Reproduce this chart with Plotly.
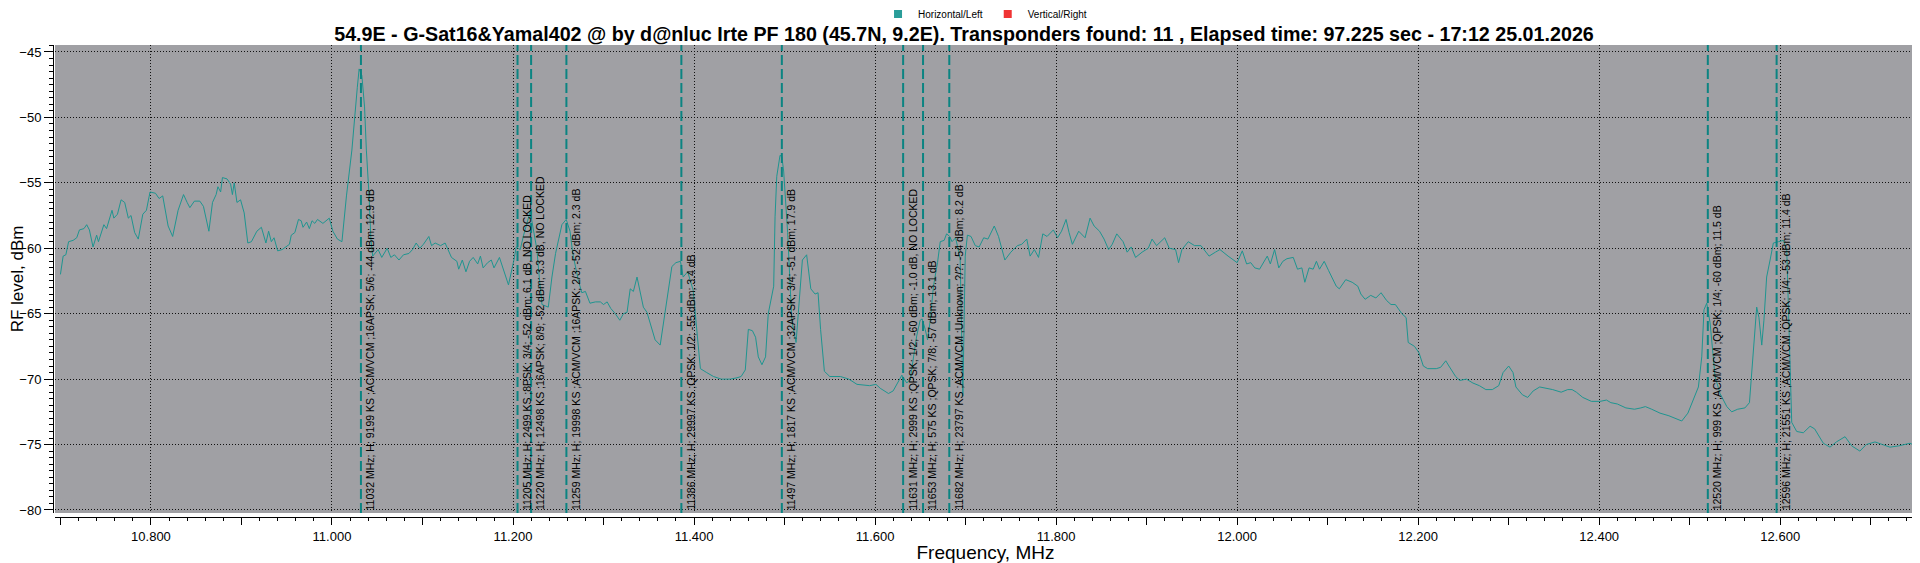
import plotly.graph_objects as go

# spectrum scan, horizontal polarisation
freq_ghz = [
    10.700, 10.703, 10.706, 10.709, 10.714, 10.718, 10.721, 10.726, 10.729, 10.732,
    10.736, 10.740, 10.742, 10.745, 10.748, 10.751, 10.757, 10.759, 10.763, 10.767,
    10.771, 10.775, 10.778, 10.782, 10.786, 10.791, 10.795, 10.799, 10.805, 10.809,
    10.813, 10.819, 10.824, 10.830, 10.836, 10.840, 10.843, 10.848, 10.854, 10.858,
    10.864, 10.868, 10.872, 10.874, 10.877, 10.879, 10.884, 10.888, 10.890, 10.892,
    10.895, 10.899, 10.903, 10.907, 10.911, 10.917, 10.922, 10.927, 10.930, 10.933,
    10.936, 10.940, 10.945, 10.953, 10.955, 10.959, 10.963, 10.966, 10.968, 10.972,
    10.975, 10.978, 10.981, 10.984, 10.990, 10.997, 11.001, 11.006, 11.011, 11.016,
    11.022, 11.028, 11.030, 11.033, 11.036, 11.038, 11.041, 11.043, 11.045, 11.051,
    11.055, 11.061, 11.065, 11.069, 11.074, 11.079, 11.085, 11.089, 11.093, 11.097,
    11.101, 11.107, 11.110, 11.114, 11.120, 11.125, 11.132, 11.138, 11.140, 11.144,
    11.148, 11.152, 11.156, 11.161, 11.164, 11.167, 11.172, 11.176, 11.179, 11.185,
    11.189, 11.195, 11.2007, 11.2036, 11.208, 11.2117, 11.219, 11.2225, 11.2264, 11.229,
    11.232, 11.239, 11.243, 11.247, 11.250, 11.254, 11.2588, 11.263, 11.266, 11.272,
    11.276, 11.280, 11.285, 11.291, 11.2965, 11.300, 11.304, 11.308, 11.313, 11.318,
    11.322, 11.326, 11.3295, 11.333, 11.337, 11.340, 11.344, 11.348, 11.3516, 11.357,
    11.3626, 11.366, 11.370, 11.3755, 11.380, 11.385, 11.388, 11.393, 11.399, 11.403,
    11.407, 11.414, 11.4215, 11.430, 11.440, 11.4474, 11.452, 11.4566, 11.460, 11.4645,
    11.468, 11.471, 11.475, 11.479, 11.482, 11.488, 11.4895, 11.4914, 11.495, 11.497,
    11.499, 11.5034, 11.508, 11.5127, 11.5197, 11.5244, 11.529, 11.5337, 11.537, 11.5398,
    11.544, 11.550, 11.5617, 11.571, 11.580, 11.594, 11.601, 11.6057, 11.6148, 11.620,
    11.626, 11.6296, 11.635, 11.639, 11.6425, 11.646, 11.6498, 11.652, 11.6554, 11.658,
    11.661, 11.6645, 11.669, 11.672, 11.6763, 11.679, 11.6825, 11.685, 11.689, 11.694,
    11.697, 11.6996, 11.702, 11.706, 11.7107, 11.715, 11.720, 11.7247, 11.7317, 11.7364,
    11.7434, 11.750, 11.7573, 11.762, 11.7676, 11.7713, 11.776, 11.7806, 11.7853, 11.790,
    11.797, 11.8016, 11.806, 11.811, 11.8143, 11.818, 11.825, 11.832, 11.8375, 11.842,
    11.848, 11.853, 11.858, 11.862, 11.867, 11.874, 11.8785, 11.883, 11.8878, 11.895,
    11.9018, 11.906, 11.911, 11.920, 11.925, 11.932, 11.9353, 11.939, 11.946, 11.953,
    11.960, 11.969, 11.976, 11.981, 11.990, 12.000, 12.0057, 12.0105, 12.015, 12.0195,
    12.0248, 12.029, 12.0333, 12.0367, 12.0414, 12.046, 12.0505, 12.055, 12.062, 12.0667,
    12.0715, 12.0748, 12.0795, 12.084, 12.0876, 12.091, 12.0962, 12.101, 12.1057, 12.1095,
    12.1129, 12.120, 12.1271, 12.1333, 12.1367, 12.1414, 12.1476, 12.1533, 12.159, 12.1652,
    12.170, 12.1748, 12.182, 12.1867, 12.189, 12.196, 12.201, 12.2057, 12.2105, 12.220,
    12.2248, 12.2305, 12.234, 12.2414, 12.246, 12.2533, 12.2605, 12.2676, 12.2748, 12.2819,
    12.289, 12.2938, 12.300, 12.3048, 12.308, 12.3152, 12.321, 12.3271, 12.3343, 12.3414,
    12.3486, 12.358, 12.3652, 12.370, 12.3748, 12.3819, 12.3914, 12.401, 12.408, 12.4129,
    12.420, 12.4295, 12.439, 12.446, 12.451, 12.458, 12.4672, 12.477, 12.4843, 12.4912,
    12.498, 12.504, 12.5096, 12.5133, 12.5158, 12.5188, 12.5225, 12.528, 12.5335, 12.541,
    12.5464, 12.553, 12.561, 12.566, 12.5696, 12.574, 12.5765, 12.5796, 12.582, 12.585,
    12.5888, 12.5924, 12.598, 12.6035, 12.6072, 12.610, 12.6127, 12.6182, 12.6255, 12.633,
    12.638, 12.6476, 12.655, 12.662, 12.6716, 12.679, 12.688, 12.695, 12.7047, 12.713,
    12.7213, 12.731, 12.7434, 12.749,
]
level_dbm = [
    -62.0, -60.6, -60.5, -59.5, -59.4, -59.2, -58.6, -58.5, -58.2, -58.6,
    -59.9, -59.0, -59.5, -58.8, -58.2, -58.5, -57.1, -57.7, -57.4, -56.3,
    -56.5, -57.7, -57.5, -58.8, -59.3, -57.4, -57.1, -55.7, -55.8, -56.2,
    -56.0, -58.3, -59.1, -57.1, -55.9, -56.5, -56.9, -56.4, -56.4, -56.8,
    -58.7, -56.5, -55.9, -55.3, -55.7, -54.6, -54.7, -55.1, -55.9, -55.0,
    -56.5, -56.3, -57.3, -59.6, -59.5, -58.7, -58.4, -59.6, -58.7, -59.5,
    -59.2, -60.2, -60.1, -59.7, -59.0, -58.8, -57.8, -57.9, -58.4, -58.0,
    -58.5, -57.9, -58.1, -57.8, -58.1, -57.7, -58.7, -59.3, -59.5, -56.0,
    -52.5, -47.7, -46.3, -46.8, -49.2, -52.5, -56.0, -59.3, -60.6, -60.1,
    -60.7, -60.0, -60.7, -60.5, -60.9, -60.5, -60.4, -60.1, -59.6, -60.0,
    -59.7, -59.1, -59.8, -59.6, -59.8, -59.6, -60.7, -61.0, -61.6, -60.9,
    -61.8, -61.0, -60.7, -61.2, -60.6, -61.5, -61.1, -60.9, -61.5, -60.7,
    -61.6, -62.8, -61.0, -59.9, -60.1, -59.0, -57.2, -58.5, -60.1, -62.2,
    -64.3, -64.5, -62.2, -60.4, -59.4, -58.2, -57.8, -58.7, -60.4, -62.4,
    -63.4, -63.3, -64.2, -64.1, -64.1, -64.3, -64.1, -64.6, -65.0, -65.5,
    -65.0, -64.9, -63.1, -63.3, -62.2, -63.2, -64.5, -64.9, -65.7, -67.0,
    -67.4, -65.8, -63.7, -61.4, -61.1, -61.0, -62.2, -61.8, -63.2, -66.2,
    -69.2, -69.5, -69.8, -70.0, -70.0, -69.9, -69.8, -69.3, -66.2, -66.3,
    -66.8, -68.3, -68.9, -68.3, -65.0, -62.9, -57.6, -54.5, -52.9, -53.0,
    -54.1, -58.8, -65.5, -67.2, -60.9, -60.5, -63.1, -63.5, -63.4, -66.2,
    -69.4, -69.8, -69.8, -70.0, -70.4, -70.5, -70.4, -70.7, -71.1, -70.9,
    -70.2, -69.7, -70.3, -70.0, -68.3, -66.7, -65.5, -65.4, -66.2, -67.0,
    -65.5, -62.9, -61.1, -59.5, -59.4, -58.9, -59.1, -59.5, -59.2, -60.8,
    -71.3, -60.6, -59.0, -59.1, -59.8, -59.9, -59.2, -59.3, -58.3, -59.1,
    -60.9, -60.3, -59.8, -59.7, -59.3, -60.6, -60.1, -60.7, -58.9, -59.1,
    -58.6, -59.2, -58.7, -57.8, -58.8, -59.7, -58.7, -59.2, -57.7, -58.3,
    -58.7, -59.3, -60.1, -59.7, -58.9, -59.5, -60.3, -59.9, -60.7, -60.3,
    -60.0, -59.3, -59.8, -59.2, -60.0, -60.1, -61.1, -60.1, -59.5, -59.8,
    -59.8, -60.6, -60.3, -60.1, -60.6, -61.1, -60.2, -61.2, -61.1, -61.5,
    -61.6, -61.1, -60.6, -61.2, -60.1, -61.5, -61.0, -60.8, -60.7, -61.6,
    -61.5, -62.6, -61.5, -61.6, -61.0, -61.6, -61.0, -61.7, -62.4, -62.9,
    -63.1, -62.4, -62.6, -62.9, -63.5, -63.9, -63.6, -63.8, -63.4, -64.0,
    -64.3, -64.3, -65.0, -65.3, -67.2, -67.5, -68.0, -69.0, -69.2, -69.2,
    -69.1, -68.6, -69.0, -69.8, -70.1, -70.0, -70.3, -70.5, -70.8, -70.8,
    -70.5, -69.5, -69.0, -69.5, -70.6, -71.2, -71.4, -70.9, -70.6, -70.7,
    -70.8, -71.0, -70.8, -70.8, -71.0, -71.4, -71.7, -71.7, -71.6, -71.8,
    -71.9, -72.2, -72.3, -72.2, -72.1, -72.3, -72.6, -72.8, -73.0, -73.2,
    -72.6, -71.5, -70.6, -68.3, -64.7, -64.2, -65.7, -69.8, -71.1, -72.1,
    -72.5, -72.3, -72.2, -71.8, -68.3, -64.5, -65.3, -67.4, -65.5, -62.2,
    -60.9, -59.6, -59.5, -59.4, -60.1, -66.7, -73.3, -74.0, -74.1, -73.6,
    -73.8, -74.9, -75.2, -74.8, -74.4, -75.1, -75.5, -75.0, -74.8, -75.0,
    -75.2, -75.1, -74.9, -75.1,
]

# transponders found
tp_freq_mhz = [11032, 11205, 11220, 11259, 11386, 11497, 11631, 11653, 11682, 12520, 12596]
tp_labels = [
    "11032 MHz; H; 9199 KS ;ACM/VCM ;16APSK; 5/6; -44 dBm; 12.9 dB",
    "11205 MHz; H; 2499 KS ;8PSK; 3/4; -52 dBm; 6.1 dB, NO LOCKED",
    "11220 MHz; H; 12498 KS ;16APSK; 8/9; -52 dBm; 3.3 dB, NO LOCKED",
    "11259 MHz; H; 19998 KS ;ACM/VCM ;16APSK; 2/3; -52 dBm; 2.3 dB",
    "11386 MHz; H; 29997 KS ;QPSK; 1/2; -55 dBm; 3.4 dB",
    "11497 MHz; H; 1817 KS ;ACM/VCM ;32APSK; 3/4; -51 dBm; 17.9 dB",
    "11631 MHz; H; 2999 KS ;QPSK; 1/2; -60 dBm; -1.0 dB, NO LOCKED",
    "11653 MHz; H; 575 KS ;QPSK; 7/8; -57 dBm; 13.1 dB",
    "11682 MHz; H; 23797 KS ;ACM/VCM ;Unknown; ?/?; -54 dBm; 8.2 dB",
    "12520 MHz; H; 999 KS ;ACM/VCM ;QPSK; 1/4; -60 dBm; 11.5 dB",
    "12596 MHz; H; 21551 KS ;ACM/VCM ;QPSK; 1/4; -53 dBm; 11.4 dB",
]

title = ("54.9E - G-Sat16&Yamal402 @ by d@nluc Irte PF 180 (45.7N, 9.2E). "
         "Transponders found: 11 , Elapsed time: 97.225 sec - 17:12 25.01.2026")

x_range = [10.694, 12.750]
y_range = [-80.23, -44.47]

TEAL = "#1f9590"
MARK = "#0b8482"
FONT = "Liberation Sans"

# the page body adds an 8px margin, so the figure is 8px smaller
W, H = 1912, 555


def create_scan_chart():
    fig = go.Figure()

    fig.add_trace(
        go.Scatter(
            x=freq_ghz,
            y=level_dbm,
            mode="lines",
            line=dict(color=TEAL, width=1),
            showlegend=False,
        )
    )

    # legend entries (squares)
    fig.add_trace(
        go.Scatter(
            x=[None], y=[None], mode="markers", name="Horizontal/Left",
            marker=dict(symbol="square", size=8, color="#2a9d99"),
        )
    )
    fig.add_trace(
        go.Scatter(
            x=[None], y=[None], mode="markers", name="Vertical/Right",
            marker=dict(symbol="square", size=8, color="#f03434"),
        )
    )
    # carrier for the 0.1 tick axis
    fig.add_trace(
        go.Scatter(x=x_range, y=y_range, mode="lines", xaxis="x2",
                   line=dict(width=0), hoverinfo="skip", showlegend=False)
    )

    for f, txt in zip(tp_freq_mhz, tp_labels):
        fig.add_vline(
            x=f / 1000,
            line=dict(color=MARK, width=2, dash="10px,4px"),
        )
        fig.add_annotation(
            x=f / 1000, xref="x",
            y=0, yref="y domain",
            text=txt,
            textangle=-90,
            showarrow=False,
            xanchor="left", yanchor="bottom",
            xshift=1, yshift=1,
            font=dict(family=FONT, size=10.5, color="black"),
        )

    fig.update_layout(
        width=W,
        height=H,
        margin=dict(l=45, r=4, t=37, b=46, autoexpand=False),
        paper_bgcolor="white",
        plot_bgcolor="#a0a0a4",
        font=dict(family=FONT, color="black"),
        title=dict(
            text=f"<b>{title}</b>",
            x=0.5, xanchor="center",
            y=1 - 26 / H, yanchor="middle",
            font=dict(family=FONT, size=19.7, color="black"),
        ),
        legend=dict(
            orientation="h",
            xref="container", yref="container",
            x=0.511, xanchor="center",
            y=1 - 6 / H, yanchor="middle",
            font=dict(size=10),
            itemwidth=30,
            bgcolor="rgba(0,0,0,0)",
        ),
        xaxis=dict(
            range=x_range,
            domain=[2 / 1863, 1],
            anchor="free", position=0,
            dtick=0.2, tick0=0,
            tickformat=".3f",
            ticks="outside", ticklen=7, tickcolor="black",
            showline=True, linecolor="black", linewidth=1,
            showgrid=True, gridcolor="#111111", griddash="1px,2px", gridwidth=1,
            zeroline=False,
            minor=dict(dtick=0.02, tick0=0, ticks="outside", ticklen=3,
                       tickcolor="black", showgrid=False),
            tickfont=dict(size=13),
            title=dict(text="Frequency, MHz", font=dict(size=19), standoff=1),
        ),
        xaxis2=dict(
            range=x_range,
            domain=[2 / 1863, 1],
            overlaying="x",
            anchor="free", position=0,
            side="bottom",
            dtick=0.1, tick0=0,
            ticks="outside", ticklen=7, tickcolor="black",
            showticklabels=False, showgrid=False, showline=False, zeroline=False,
        ),
        yaxis=dict(
            range=y_range,
            domain=[4 / 472, 1],
            anchor="free", position=0,
            dtick=5, tick0=0,
            ticks="outside", ticklen=9, tickcolor="black",
            showline=True, linecolor="black", linewidth=1,
            showgrid=True, gridcolor="#111111", griddash="1px,2px", gridwidth=1,
            zeroline=False,
            minor=dict(dtick=0.5, tick0=0, ticks="outside", ticklen=4,
                       tickcolor="black", showgrid=False),
            tickfont=dict(size=13),
            title=dict(text="RF level, dBm", font=dict(size=17), standoff=0),
        ),
    )

    return fig


fig = create_scan_chart()
fig.write_html("out.html")
